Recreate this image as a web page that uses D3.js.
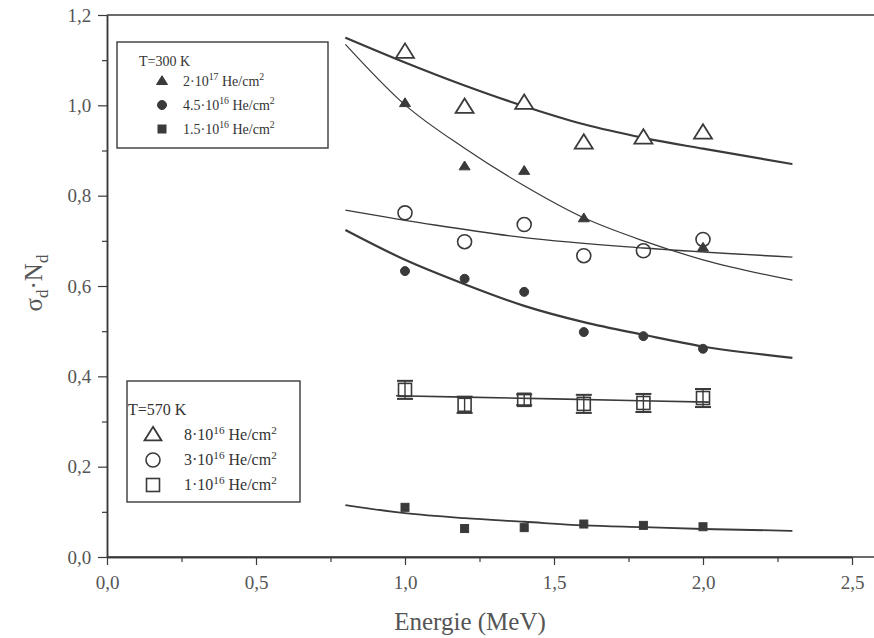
<!DOCTYPE html>
<html><head><meta charset="utf-8">
<script src="https://cdn.jsdelivr.net/npm/d3@7"></script>
<style>body{margin:0;background:#fff}svg{display:block}</style>
</head><body>
<svg id="c" width="874" height="638"></svg>
<script>
const energies = [1.0, 1.2, 1.4, 1.6, 1.8, 2.0];
// T=300 K (filled markers)
const tri300 = [[1.0,1.005],[1.2,0.865],[1.4,0.855],[1.6,0.750],[2.0,0.685]];
const circ300 = [0.633,0.616,0.587,0.498,0.489,0.461];
const sq300 = [0.110,0.063,0.065,0.073,0.070,0.067];
// T=570 K (open markers)
const tri570 = [1.118,0.996,1.005,0.917,0.928,0.939];
const circ570 = [0.762,0.698,0.736,0.667,0.678,0.703];
const sq570 = [0.370,0.337,0.348,0.339,0.341,0.352];
const sq570err = [0.02,0.018,0.012,0.02,0.02,0.02];
// fitted curves
const fitTri570 = [[0.8,1.150],[1.0,1.095],[1.2,1.044],[1.4,0.998],[1.6,0.958],[1.8,0.928],[2.0,0.904],[2.3,0.870]];
const fitTri300 = [[0.8,1.135],[1.0,1.001],[1.2,0.905],[1.4,0.822],[1.6,0.751],[1.8,0.700],[2.0,0.658],[2.3,0.613]];
const fitCirc570 = [[0.8,0.768],[1.1,0.735],[1.4,0.707],[1.8,0.684],[2.3,0.664]];
const fitCirc300 = [[0.8,0.724],[1.0,0.658],[1.2,0.604],[1.4,0.556],[1.6,0.520],[1.8,0.492],[2.0,0.466],[2.3,0.441]];
const fitSq570 = [[0.97,0.357],[1.5,0.350],[2.02,0.343]];
const fitSq300 = [[0.8,0.115],[1.0,0.097],[1.2,0.086],[1.4,0.078],[1.6,0.070],[1.8,0.066],[2.0,0.062],[2.3,0.058]];
const xTicks = [0.0,0.5,1.0,1.5,2.0,2.5];
const yTicks = [0.0,0.2,0.4,0.6,0.8,1.0,1.2];

const svg = d3.select("#c");
const L=107, R=874, T=15, B=557;
const x = d3.scaleLinear().domain([0,2.5]).range([L,852]);
const y = d3.scaleLinear().domain([0,1.2]).range([B,T]);
const ink="#3a3a3a", font="Liberation Serif, DejaVu Serif, serif";
const fmt = d => d.toFixed(1).replace(".",",");

// frame
svg.append("line").attr("x1",L).attr("x2",R).attr("y1",T).attr("y2",T).attr("stroke",ink).attr("stroke-width",1.5);
const xa = svg.append("g").attr("transform",`translate(0,${B})`)
  .call(d3.axisBottom(x).tickValues(xTicks).tickFormat(fmt).tickSize(8).tickSizeOuter(0));
const xm = svg.append("g").attr("transform",`translate(0,${B})`)
  .call(d3.axisBottom(x).tickValues([0.25,0.75,1.25,1.75,2.25]).tickFormat("").tickSize(5).tickSizeOuter(0));
const ya = svg.append("g").attr("transform",`translate(${L},0)`)
  .call(d3.axisLeft(y).tickValues(yTicks).tickFormat(fmt).tickSize(9).tickSizeOuter(0));
const ym = svg.append("g").attr("transform",`translate(${L},0)`)
  .call(d3.axisLeft(y).tickValues([0.1,0.3,0.5,0.7,0.9,1.1]).tickFormat("").tickSize(5).tickSizeOuter(0));
svg.append("line").attr("x1",L).attr("x2",R).attr("y1",B).attr("y2",B).attr("stroke",ink).attr("stroke-width",1.5);
[xa,xm,ya,ym].forEach(g=>{
  g.select(".domain").attr("stroke",ink).attr("stroke-width",1.5);
  g.selectAll(".tick line").attr("stroke",ink).attr("stroke-width",1.2);
  g.selectAll("text").attr("font-family",font).attr("font-size",19).attr("fill","#555");
});
xa.selectAll("text").attr("dy","1.1em");
ya.selectAll("text").attr("dx","-0.2em");

svg.append("text").attr("x",470).attr("y",630).attr("text-anchor","middle")
  .attr("font-family",font).attr("font-size",25).attr("fill","#555").text("Energie (MeV)");
const yl = svg.append("text").attr("transform","translate(42,283) rotate(-90)").attr("text-anchor","middle")
  .attr("font-family",font).attr("font-size",25).attr("fill","#555");
yl.append("tspan").text("σ");
yl.append("tspan").attr("font-size",17).attr("dy",6).text("d");
yl.append("tspan").attr("dy",-6).text("·N");
yl.append("tspan").attr("font-size",17).attr("dy",6).text("d");

// fit lines
const line = d3.line().x(d=>x(d[0])).y(d=>y(d[1])).curve(d3.curveMonotoneX);
[[fitTri570,2.2],[fitTri300,1.2],[fitCirc570,1.4],[fitCirc300,2.2],[fitSq570,1.6],[fitSq300,1.8]].forEach(([d,w])=>{
  svg.append("path").attr("d",line(d)).attr("fill","none").attr("stroke",ink).attr("stroke-width",w);
});

// markers
function triPath(s){const h=s*0.8;return `M0,${-h*0.6}L${s/2},${h*0.4}L${-s/2},${h*0.4}Z`;}
const mk = svg.append("g");
function tri(g,cx,cy,s,filled){g.append("path").attr("d",triPath(s)).attr("transform",`translate(${cx},${cy})`)
  .attr("fill",filled?ink:"#fff").attr("stroke",ink).attr("stroke-width",filled?1:1.8);}
function circ(g,cx,cy,r,filled){g.append("circle").attr("cx",cx).attr("cy",cy).attr("r",r)
  .attr("fill",filled?ink:"none").attr("stroke",ink).attr("stroke-width",filled?1:1.6);}
function sq(g,cx,cy,s,filled){g.append("rect").attr("x",cx-s/2).attr("y",cy-s/2).attr("width",s).attr("height",s)
  .attr("fill",filled?ink:"none").attr("stroke",ink).attr("stroke-width",filled?1:1.6);}

// error bars for open squares
energies.forEach((e,i)=>{
  const cx=x(e), y1=y(sq570[i]+sq570err[i]), y2=y(sq570[i]-sq570err[i]);
  mk.append("line").attr("x1",cx).attr("x2",cx).attr("y1",y1).attr("y2",y2).attr("stroke",ink).attr("stroke-width",1.4);
  [y1,y2].forEach(yy=>mk.append("line").attr("x1",cx-8).attr("x2",cx+8).attr("y1",yy).attr("y2",yy).attr("stroke",ink).attr("stroke-width",2));
  sq(mk,cx,y(sq570[i]),13,false);
});
energies.forEach((e,i)=>tri(mk,x(e),y(tri570[i]),18,false));
energies.forEach((e,i)=>circ(mk,x(e),y(circ570[i]),7,false));
tri300.forEach(d=>tri(mk,x(d[0]),y(d[1]),11,true));
energies.forEach((e,i)=>circ(mk,x(e),y(circ300[i]),4.5,true));
energies.forEach((e,i)=>sq(mk,x(e),y(sq300[i]),8,true));

// legends
function legend(bx,by,bw,bh,title,tx,ty,items,mx,txx,y0,dy,fs,open){
  const g = svg.append("g");
  g.append("rect").attr("x",bx).attr("y",by).attr("width",bw).attr("height",bh)
    .attr("fill","#fff").attr("stroke",ink).attr("stroke-width",1.4);
  g.append("text").attr("x",tx).attr("y",ty).attr("font-family",font).attr("font-size",fs).attr("fill","#333").text(title);
  items.forEach((it,i)=>{
    const cy=y0+i*dy;
    if(i===0) open?tri(g,mx,cy,17,false):tri(g,mx,cy,11,true);
    if(i===1) open?circ(g,mx,cy,7,false):circ(g,mx,cy,4.5,true);
    if(i===2) open?sq(g,mx,cy,13,false):sq(g,mx,cy,8,true);
    const t=g.append("text").attr("x",txx).attr("y",cy+5).attr("font-family",font).attr("font-size",fs).attr("fill","#333");
    t.append("tspan").text(it[0]+"·10");
    t.append("tspan").attr("font-size",fs*0.7).attr("dy",-6).text(it[1]);
    t.append("tspan").attr("dy",6).text(" He/cm");
    t.append("tspan").attr("font-size",fs*0.7).attr("dy",-6).text("2");
  });
}
legend(117,42,211,106,"T=300 K",139,66,[["2","17"],["4.5","16"],["1.5","16"]],162,183,81,24,14,false);
legend(127,381,173,121,"T=570 K",128,415,[["8","16"],["3","16"],["1","16"]],153,184,435,25,16,true);
</script>
</body></html>
